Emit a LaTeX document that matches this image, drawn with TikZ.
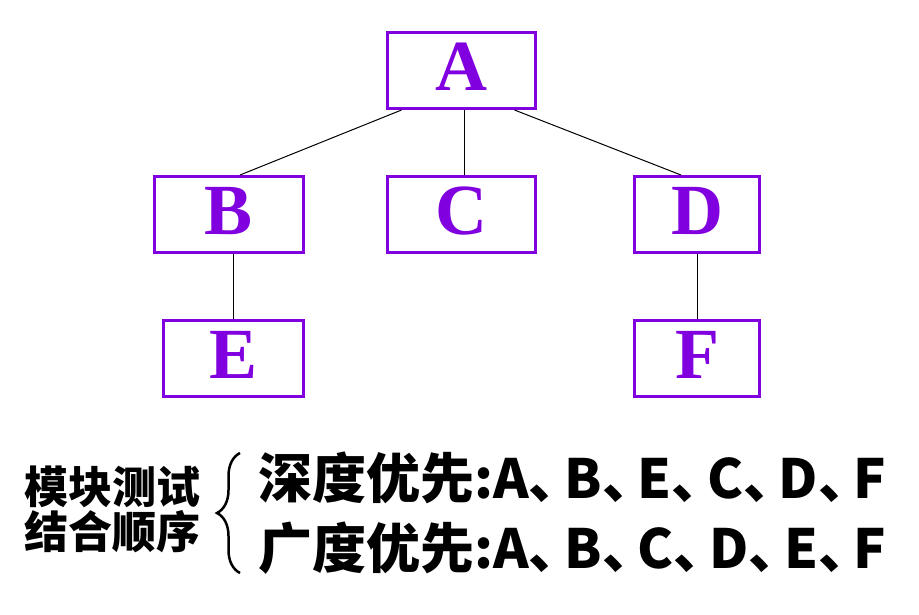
\documentclass[tikz,border=0pt]{standalone}
\usepackage{fontspec}
\setmainfont{Liberation Serif}
\newfontfamily\cjk{Noto Sans CJK SC}
\usetikzlibrary{decorations.pathreplacing}
\newlength{\du}
\setlength{\du}{1pt}
\newcommand{\pausemark}{\makebox[0.66em][l]{、}}
\definecolor{boxcolor}{rgb}{0.500000, 0.000000, 0.880000}
\tikzset{
  modbox/.style={draw=boxcolor, line width=3\du, minimum width=#1,
    minimum height=76\du, inner sep=0pt, text=boxcolor, text depth=8\du,
    font=\fontsize{72}{72}\selectfont\bfseries},
  link/.style={line width=1\du, black},
  ordertext/.style={inner sep=0pt, font=\cjk\fontsize{44}{44}\selectfont\bfseries},
  seqtext/.style={inner sep=0pt, anchor=base west, font=\cjk\fontsize{54}{54}\selectfont\bfseries}
}

\begin{document}
\begin{tikzpicture}
\pgftransformxscale{1.000000}
\pgftransformyscale{-1.000000}
\useasboundingbox (0\du,0\du) rectangle (919\du,614\du);
% module tree
\node[modbox=148\du] (A) at (461.500000\du,70.500000\du){A};
\node[modbox=149\du] (B) at (229.000000\du,214.500000\du){B};
\node[modbox=148\du] (C) at (461.500000\du,214.500000\du){C};
\node[modbox=125\du] (D) at (697.000000\du,214.500000\du){D};
\node[modbox=140\du] (E) at (233.500000\du,358.500000\du){E};
\node[modbox=125\du] (F) at (697.000000\du,358.500000\du){F};
\draw[link] ([xshift=-60\du]A.south) -- ([xshift=11\du]B.north);
\draw[link] ([xshift=3\du]A.south) -- ([xshift=3\du]C.north);
\draw[link] ([xshift=53\du]A.south) -- ([xshift=-16\du]D.north);
\draw[link] (E.north |- B.south) -- (E.north);
\draw[link] (D.south) -- (F.north);
% integration order
\node[ordertext, anchor=base] (order1) at (112.500000\du,503.000000\du){模块测试};
\node[ordertext, anchor=base] (order2) at (112.500000\du,548.000000\du){结合顺序};
\coordinate (bracetop) at (240.000000\du,453.000000\du);
\coordinate (bracebot) at (240.000000\du,573.000000\du);
\draw[line width=2.5\du, decorate, decoration={brace, amplitude=23\du}] (bracebot) -- (bracetop);
\node[seqtext] (depth) at (258.000000\du,498.000000\du){深度优先:A\pausemark B\pausemark E\pausemark C\pausemark D\pausemark F};
\node[seqtext] (breadth) at (258.000000\du,568.000000\du){广度优先:A\pausemark B\pausemark C\pausemark D\pausemark E\pausemark F};
\end{tikzpicture}
\end{document}
